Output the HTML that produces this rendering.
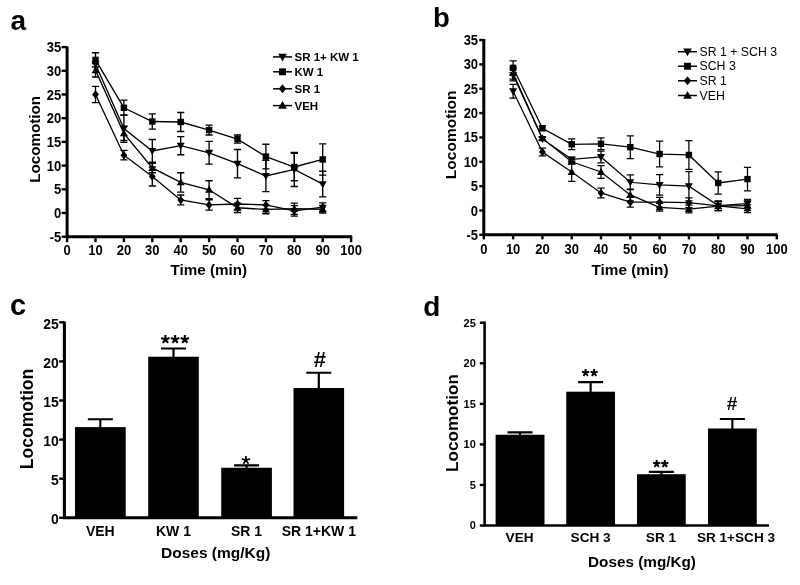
<!DOCTYPE html>
<html><head><meta charset="utf-8"><style>
html,body{margin:0;padding:0;background:#fff;}
svg{display:block;will-change:transform;}
</style></head><body>
<svg width="800" height="585" viewBox="0 0 800 585" font-family='"Liberation Sans", sans-serif' fill="#000">
<defs><filter id="bl" x="0" y="0" width="800" height="585" filterUnits="userSpaceOnUse"><feGaussianBlur stdDeviation="0.45"/></filter></defs>
<rect width="800" height="585" fill="#fff"/>
<g filter="url(#bl)">
<path d="M67.10,46.50 V236.70 H352.20" fill="none" stroke="#000" stroke-width="3"/>
<path d="M61.60,236.70 H67.10" stroke="#000" stroke-width="2.4"/>
<text transform="translate(61.30,241.70) scale(1,1.1)" font-size="13" font-weight="bold" text-anchor="end" >-5</text>
<path d="M61.60,213.00 H67.10" stroke="#000" stroke-width="2.4"/>
<text transform="translate(61.30,218.00) scale(1,1.1)" font-size="13" font-weight="bold" text-anchor="end" >0</text>
<path d="M61.60,189.30 H67.10" stroke="#000" stroke-width="2.4"/>
<text transform="translate(61.30,194.30) scale(1,1.1)" font-size="13" font-weight="bold" text-anchor="end" >5</text>
<path d="M61.60,165.60 H67.10" stroke="#000" stroke-width="2.4"/>
<text transform="translate(61.30,170.60) scale(1,1.1)" font-size="13" font-weight="bold" text-anchor="end" >10</text>
<path d="M61.60,141.90 H67.10" stroke="#000" stroke-width="2.4"/>
<text transform="translate(61.30,146.90) scale(1,1.1)" font-size="13" font-weight="bold" text-anchor="end" >15</text>
<path d="M61.60,118.20 H67.10" stroke="#000" stroke-width="2.4"/>
<text transform="translate(61.30,123.20) scale(1,1.1)" font-size="13" font-weight="bold" text-anchor="end" >20</text>
<path d="M61.60,94.50 H67.10" stroke="#000" stroke-width="2.4"/>
<text transform="translate(61.30,99.50) scale(1,1.1)" font-size="13" font-weight="bold" text-anchor="end" >25</text>
<path d="M61.60,70.80 H67.10" stroke="#000" stroke-width="2.4"/>
<text transform="translate(61.30,75.80) scale(1,1.1)" font-size="13" font-weight="bold" text-anchor="end" >30</text>
<path d="M61.60,47.10 H67.10" stroke="#000" stroke-width="2.4"/>
<text transform="translate(61.30,52.10) scale(1,1.1)" font-size="13" font-weight="bold" text-anchor="end" >35</text>
<path d="M67.10,236.70 V242.20" stroke="#000" stroke-width="2.4"/>
<text transform="translate(67.10,255.30) scale(1,1.1)" font-size="13" font-weight="bold" text-anchor="middle" >0</text>
<path d="M95.50,236.70 V242.20" stroke="#000" stroke-width="2.4"/>
<text transform="translate(95.50,255.30) scale(1,1.1)" font-size="13" font-weight="bold" text-anchor="middle" >10</text>
<path d="M123.90,236.70 V242.20" stroke="#000" stroke-width="2.4"/>
<text transform="translate(123.90,255.30) scale(1,1.1)" font-size="13" font-weight="bold" text-anchor="middle" >20</text>
<path d="M152.30,236.70 V242.20" stroke="#000" stroke-width="2.4"/>
<text transform="translate(152.30,255.30) scale(1,1.1)" font-size="13" font-weight="bold" text-anchor="middle" >30</text>
<path d="M180.70,236.70 V242.20" stroke="#000" stroke-width="2.4"/>
<text transform="translate(180.70,255.30) scale(1,1.1)" font-size="13" font-weight="bold" text-anchor="middle" >40</text>
<path d="M209.10,236.70 V242.20" stroke="#000" stroke-width="2.4"/>
<text transform="translate(209.10,255.30) scale(1,1.1)" font-size="13" font-weight="bold" text-anchor="middle" >50</text>
<path d="M237.50,236.70 V242.20" stroke="#000" stroke-width="2.4"/>
<text transform="translate(237.50,255.30) scale(1,1.1)" font-size="13" font-weight="bold" text-anchor="middle" >60</text>
<path d="M265.90,236.70 V242.20" stroke="#000" stroke-width="2.4"/>
<text transform="translate(265.90,255.30) scale(1,1.1)" font-size="13" font-weight="bold" text-anchor="middle" >70</text>
<path d="M294.30,236.70 V242.20" stroke="#000" stroke-width="2.4"/>
<text transform="translate(294.30,255.30) scale(1,1.1)" font-size="13" font-weight="bold" text-anchor="middle" >80</text>
<path d="M322.70,236.70 V242.20" stroke="#000" stroke-width="2.4"/>
<text transform="translate(322.70,255.30) scale(1,1.1)" font-size="13" font-weight="bold" text-anchor="middle" >90</text>
<path d="M351.10,236.70 V242.20" stroke="#000" stroke-width="2.4"/>
<text transform="translate(351.10,255.30) scale(1,1.1)" font-size="13" font-weight="bold" text-anchor="middle" >100</text>
<polyline points="95.50,64.16 123.90,128.63 152.30,150.91 180.70,145.69 209.10,152.80 237.50,163.70 265.90,176.03 294.30,169.39 322.70,184.09" fill="none" stroke="#000" stroke-width="1.35"/>
<path d="M123.90,114.88 V142.37 M120.30,114.88 h7.2 M120.30,142.37 h7.2" stroke="#000" stroke-width="1.35" fill="none"/>
<path d="M152.30,139.53 V162.28 M148.70,139.53 h7.2 M148.70,162.28 h7.2" stroke="#000" stroke-width="1.35" fill="none"/>
<path d="M180.70,136.69 V154.70 M177.10,136.69 h7.2 M177.10,154.70 h7.2" stroke="#000" stroke-width="1.35" fill="none"/>
<path d="M209.10,141.43 V164.18 M205.50,141.43 h7.2 M205.50,164.18 h7.2" stroke="#000" stroke-width="1.35" fill="none"/>
<path d="M237.50,149.48 V177.92 M233.90,149.48 h7.2 M233.90,177.92 h7.2" stroke="#000" stroke-width="1.35" fill="none"/>
<path d="M265.90,160.39 V191.67 M262.30,160.39 h7.2 M262.30,191.67 h7.2" stroke="#000" stroke-width="1.35" fill="none"/>
<path d="M294.30,152.33 V186.46 M290.70,152.33 h7.2 M290.70,186.46 h7.2" stroke="#000" stroke-width="1.35" fill="none"/>
<path d="M322.70,171.29 V196.88 M319.10,171.29 h7.2 M319.10,196.88 h7.2" stroke="#000" stroke-width="1.35" fill="none"/>
<polyline points="95.50,94.50 123.90,155.17 152.30,176.50 180.70,199.97 209.10,204.94 237.50,203.99 265.90,204.94 294.30,210.87 322.70,207.07" fill="none" stroke="#000" stroke-width="1.35"/>
<path d="M95.50,86.44 V102.56 M91.90,86.44 h7.2 M91.90,102.56 h7.2" stroke="#000" stroke-width="1.35" fill="none"/>
<path d="M123.90,150.43 V159.91 M120.30,150.43 h7.2 M120.30,159.91 h7.2" stroke="#000" stroke-width="1.35" fill="none"/>
<path d="M152.30,167.02 V185.98 M148.70,167.02 h7.2 M148.70,185.98 h7.2" stroke="#000" stroke-width="1.35" fill="none"/>
<path d="M180.70,194.99 V204.94 M177.10,194.99 h7.2 M177.10,204.94 h7.2" stroke="#000" stroke-width="1.35" fill="none"/>
<path d="M209.10,199.73 V210.16 M205.50,199.73 h7.2 M205.50,210.16 h7.2" stroke="#000" stroke-width="1.35" fill="none"/>
<path d="M237.50,198.31 V209.68 M233.90,198.31 h7.2 M233.90,209.68 h7.2" stroke="#000" stroke-width="1.35" fill="none"/>
<path d="M265.90,200.68 V209.21 M262.30,200.68 h7.2 M262.30,209.21 h7.2" stroke="#000" stroke-width="1.35" fill="none"/>
<path d="M294.30,205.65 V216.08 M290.70,205.65 h7.2 M290.70,216.08 h7.2" stroke="#000" stroke-width="1.35" fill="none"/>
<path d="M322.70,202.81 V211.34 M319.10,202.81 h7.2 M319.10,211.34 h7.2" stroke="#000" stroke-width="1.35" fill="none"/>
<polyline points="95.50,70.33 123.90,133.37 152.30,167.97 180.70,182.43 209.10,189.77 237.50,207.79 265.90,209.44 294.30,208.73 322.70,209.21" fill="none" stroke="#000" stroke-width="1.35"/>
<path d="M95.50,63.69 V76.96 M91.90,63.69 h7.2 M91.90,76.96 h7.2" stroke="#000" stroke-width="1.35" fill="none"/>
<path d="M123.90,126.26 V140.48 M120.30,126.26 h7.2 M120.30,140.48 h7.2" stroke="#000" stroke-width="1.35" fill="none"/>
<path d="M152.30,163.23 V172.71 M148.70,163.23 h7.2 M148.70,172.71 h7.2" stroke="#000" stroke-width="1.35" fill="none"/>
<path d="M180.70,172.71 V192.14 M177.10,172.71 h7.2 M177.10,192.14 h7.2" stroke="#000" stroke-width="1.35" fill="none"/>
<path d="M209.10,180.77 V198.78 M205.50,180.77 h7.2 M205.50,198.78 h7.2" stroke="#000" stroke-width="1.35" fill="none"/>
<path d="M237.50,203.05 V212.53 M233.90,203.05 h7.2 M233.90,212.53 h7.2" stroke="#000" stroke-width="1.35" fill="none"/>
<path d="M265.90,205.18 V213.71 M262.30,205.18 h7.2 M262.30,213.71 h7.2" stroke="#000" stroke-width="1.35" fill="none"/>
<path d="M294.30,203.05 V214.42 M290.70,203.05 h7.2 M290.70,214.42 h7.2" stroke="#000" stroke-width="1.35" fill="none"/>
<path d="M322.70,205.42 V213.00 M319.10,205.42 h7.2 M319.10,213.00 h7.2" stroke="#000" stroke-width="1.35" fill="none"/>
<polyline points="95.50,59.90 123.90,107.77 152.30,121.52 180.70,121.99 209.10,130.05 237.50,139.06 265.90,156.59 294.30,167.02 322.70,159.44" fill="none" stroke="#000" stroke-width="1.35"/>
<path d="M95.50,52.79 V67.01 M91.90,52.79 h7.2 M91.90,67.01 h7.2" stroke="#000" stroke-width="1.35" fill="none"/>
<path d="M123.90,100.19 V115.36 M120.30,100.19 h7.2 M120.30,115.36 h7.2" stroke="#000" stroke-width="1.35" fill="none"/>
<path d="M152.30,113.93 V129.10 M148.70,113.93 h7.2 M148.70,129.10 h7.2" stroke="#000" stroke-width="1.35" fill="none"/>
<path d="M180.70,112.51 V131.47 M177.10,112.51 h7.2 M177.10,131.47 h7.2" stroke="#000" stroke-width="1.35" fill="none"/>
<path d="M209.10,125.07 V135.03 M205.50,125.07 h7.2 M205.50,135.03 h7.2" stroke="#000" stroke-width="1.35" fill="none"/>
<path d="M237.50,135.03 V143.08 M233.90,135.03 h7.2 M233.90,143.08 h7.2" stroke="#000" stroke-width="1.35" fill="none"/>
<path d="M265.90,144.27 V168.92 M262.30,144.27 h7.2 M262.30,168.92 h7.2" stroke="#000" stroke-width="1.35" fill="none"/>
<path d="M294.30,153.28 V180.77 M290.70,153.28 h7.2 M290.70,180.77 h7.2" stroke="#000" stroke-width="1.35" fill="none"/>
<path d="M322.70,143.80 V175.08 M319.10,143.80 h7.2 M319.10,175.08 h7.2" stroke="#000" stroke-width="1.35" fill="none"/>
<path d="M91.50,61.22 L99.50,61.22 L95.50,68.36Z"/>
<path d="M119.90,125.69 L127.90,125.69 L123.90,132.83Z"/>
<path d="M148.30,147.97 L156.30,147.97 L152.30,155.11Z"/>
<path d="M176.70,142.75 L184.70,142.75 L180.70,149.89Z"/>
<path d="M205.10,149.86 L213.10,149.86 L209.10,157.00Z"/>
<path d="M233.50,160.76 L241.50,160.76 L237.50,167.90Z"/>
<path d="M261.90,173.09 L269.90,173.09 L265.90,180.23Z"/>
<path d="M290.30,166.45 L298.30,166.45 L294.30,173.59Z"/>
<path d="M318.70,181.15 L326.70,181.15 L322.70,188.29Z"/>
<path d="M92.10,94.50 L95.50,90.30 L98.90,94.50 L95.50,98.70Z"/>
<path d="M120.50,155.17 L123.90,150.97 L127.30,155.17 L123.90,159.37Z"/>
<path d="M148.90,176.50 L152.30,172.30 L155.70,176.50 L152.30,180.70Z"/>
<path d="M177.30,199.97 L180.70,195.77 L184.10,199.97 L180.70,204.16Z"/>
<path d="M205.70,204.94 L209.10,200.74 L212.50,204.94 L209.10,209.14Z"/>
<path d="M234.10,203.99 L237.50,199.79 L240.90,203.99 L237.50,208.19Z"/>
<path d="M262.50,204.94 L265.90,200.74 L269.30,204.94 L265.90,209.14Z"/>
<path d="M290.90,210.87 L294.30,206.67 L297.70,210.87 L294.30,215.07Z"/>
<path d="M319.30,207.07 L322.70,202.88 L326.10,207.07 L322.70,211.27Z"/>
<path d="M91.50,73.27 L99.50,73.27 L95.50,66.13Z"/>
<path d="M119.90,136.31 L127.90,136.31 L123.90,129.17Z"/>
<path d="M148.30,170.91 L156.30,170.91 L152.30,163.77Z"/>
<path d="M176.70,185.37 L184.70,185.37 L180.70,178.23Z"/>
<path d="M205.10,192.71 L213.10,192.71 L209.10,185.57Z"/>
<path d="M233.50,210.73 L241.50,210.73 L237.50,203.59Z"/>
<path d="M261.90,212.38 L269.90,212.38 L265.90,205.25Z"/>
<path d="M290.30,211.67 L298.30,211.67 L294.30,204.53Z"/>
<path d="M318.70,212.15 L326.70,212.15 L322.70,205.01Z"/>
<rect x="92.30" y="56.70" width="6.40" height="6.40"/>
<rect x="120.70" y="104.57" width="6.40" height="6.40"/>
<rect x="149.10" y="118.32" width="6.40" height="6.40"/>
<rect x="177.50" y="118.79" width="6.40" height="6.40"/>
<rect x="205.90" y="126.85" width="6.40" height="6.40"/>
<rect x="234.30" y="135.86" width="6.40" height="6.40"/>
<rect x="262.70" y="153.39" width="6.40" height="6.40"/>
<rect x="291.10" y="163.82" width="6.40" height="6.40"/>
<rect x="319.50" y="156.24" width="6.40" height="6.40"/>
<path d="M273.00,56.90 h19" stroke="#000" stroke-width="1.5"/>
<path d="M278.18,53.72 L286.82,53.72 L282.50,61.44Z"/>
<text x="294.50" y="61.10" font-size="11.5" font-weight="bold" text-anchor="start" >SR 1+ KW 1</text>
<path d="M273.00,71.80 h19" stroke="#000" stroke-width="1.5"/>
<rect x="279.04" y="68.34" width="6.91" height="6.91"/>
<text x="294.50" y="76.00" font-size="11.5" font-weight="bold" text-anchor="start" >KW 1</text>
<path d="M273.00,88.80 h19" stroke="#000" stroke-width="1.5"/>
<path d="M278.83,88.80 L282.50,84.26 L286.17,88.80 L282.50,93.34Z"/>
<text x="294.50" y="93.00" font-size="11.5" font-weight="bold" text-anchor="start" >SR 1</text>
<path d="M273.00,105.60 h19" stroke="#000" stroke-width="1.5"/>
<path d="M278.18,108.78 L286.82,108.78 L282.50,101.06Z"/>
<text x="294.50" y="109.80" font-size="11.5" font-weight="bold" text-anchor="start" >VEH</text>
<text x="39.60" y="139.40" font-size="15.2" font-weight="bold" text-anchor="middle" transform="rotate(-90 39.6 139.4)">Locomotion</text>
<text x="208.75" y="275.20" font-size="15.2" font-weight="bold" text-anchor="middle" >Time (min)</text>
<text x="10.50" y="29.50" font-size="28" font-weight="bold" text-anchor="start" >a</text>
<path d="M483.80,39.00 V234.85 H777.50" fill="none" stroke="#000" stroke-width="3"/>
<path d="M479.30,234.85 H483.80" stroke="#000" stroke-width="2.4"/>
<text transform="translate(478.10,239.85) scale(1,1.1)" font-size="13" font-weight="bold" text-anchor="end" >-5</text>
<path d="M479.30,210.50 H483.80" stroke="#000" stroke-width="2.4"/>
<text transform="translate(478.10,215.50) scale(1,1.1)" font-size="13" font-weight="bold" text-anchor="end" >0</text>
<path d="M479.30,186.15 H483.80" stroke="#000" stroke-width="2.4"/>
<text transform="translate(478.10,191.15) scale(1,1.1)" font-size="13" font-weight="bold" text-anchor="end" >5</text>
<path d="M479.30,161.80 H483.80" stroke="#000" stroke-width="2.4"/>
<text transform="translate(478.10,166.80) scale(1,1.1)" font-size="13" font-weight="bold" text-anchor="end" >10</text>
<path d="M479.30,137.45 H483.80" stroke="#000" stroke-width="2.4"/>
<text transform="translate(478.10,142.45) scale(1,1.1)" font-size="13" font-weight="bold" text-anchor="end" >15</text>
<path d="M479.30,113.10 H483.80" stroke="#000" stroke-width="2.4"/>
<text transform="translate(478.10,118.10) scale(1,1.1)" font-size="13" font-weight="bold" text-anchor="end" >20</text>
<path d="M479.30,88.75 H483.80" stroke="#000" stroke-width="2.4"/>
<text transform="translate(478.10,93.75) scale(1,1.1)" font-size="13" font-weight="bold" text-anchor="end" >25</text>
<path d="M479.30,64.40 H483.80" stroke="#000" stroke-width="2.4"/>
<text transform="translate(478.10,69.40) scale(1,1.1)" font-size="13" font-weight="bold" text-anchor="end" >30</text>
<path d="M479.30,40.05 H483.80" stroke="#000" stroke-width="2.4"/>
<text transform="translate(478.10,45.05) scale(1,1.1)" font-size="13" font-weight="bold" text-anchor="end" >35</text>
<path d="M483.80,234.85 V239.35" stroke="#000" stroke-width="2.4"/>
<text transform="translate(483.80,254.00) scale(1,1.1)" font-size="13" font-weight="bold" text-anchor="middle" >0</text>
<path d="M513.10,234.85 V239.35" stroke="#000" stroke-width="2.4"/>
<text transform="translate(513.10,254.00) scale(1,1.1)" font-size="13" font-weight="bold" text-anchor="middle" >10</text>
<path d="M542.40,234.85 V239.35" stroke="#000" stroke-width="2.4"/>
<text transform="translate(542.40,254.00) scale(1,1.1)" font-size="13" font-weight="bold" text-anchor="middle" >20</text>
<path d="M571.70,234.85 V239.35" stroke="#000" stroke-width="2.4"/>
<text transform="translate(571.70,254.00) scale(1,1.1)" font-size="13" font-weight="bold" text-anchor="middle" >30</text>
<path d="M601.00,234.85 V239.35" stroke="#000" stroke-width="2.4"/>
<text transform="translate(601.00,254.00) scale(1,1.1)" font-size="13" font-weight="bold" text-anchor="middle" >40</text>
<path d="M630.30,234.85 V239.35" stroke="#000" stroke-width="2.4"/>
<text transform="translate(630.30,254.00) scale(1,1.1)" font-size="13" font-weight="bold" text-anchor="middle" >50</text>
<path d="M659.60,234.85 V239.35" stroke="#000" stroke-width="2.4"/>
<text transform="translate(659.60,254.00) scale(1,1.1)" font-size="13" font-weight="bold" text-anchor="middle" >60</text>
<path d="M688.90,234.85 V239.35" stroke="#000" stroke-width="2.4"/>
<text transform="translate(688.90,254.00) scale(1,1.1)" font-size="13" font-weight="bold" text-anchor="middle" >70</text>
<path d="M718.20,234.85 V239.35" stroke="#000" stroke-width="2.4"/>
<text transform="translate(718.20,254.00) scale(1,1.1)" font-size="13" font-weight="bold" text-anchor="middle" >80</text>
<path d="M747.50,234.85 V239.35" stroke="#000" stroke-width="2.4"/>
<text transform="translate(747.50,254.00) scale(1,1.1)" font-size="13" font-weight="bold" text-anchor="middle" >90</text>
<path d="M776.80,234.85 V239.35" stroke="#000" stroke-width="2.4"/>
<text transform="translate(776.80,254.00) scale(1,1.1)" font-size="13" font-weight="bold" text-anchor="middle" >100</text>
<polyline points="513.10,75.11 542.40,138.91 571.70,159.37 601.00,156.93 630.30,182.25 659.60,184.93 688.90,186.15 718.20,205.63 747.50,203.68" fill="none" stroke="#000" stroke-width="1.25"/>
<path d="M513.10,69.27 V80.96 M509.50,69.27 h7.2 M509.50,80.96 h7.2" stroke="#000" stroke-width="1.25" fill="none"/>
<path d="M542.40,137.45 V140.37 M538.80,137.45 h7.2 M538.80,140.37 h7.2" stroke="#000" stroke-width="1.25" fill="none"/>
<path d="M571.70,157.42 V161.31 M568.10,157.42 h7.2 M568.10,161.31 h7.2" stroke="#000" stroke-width="1.25" fill="none"/>
<path d="M601.00,151.09 V162.77 M597.40,151.09 h7.2 M597.40,162.77 h7.2" stroke="#000" stroke-width="1.25" fill="none"/>
<path d="M630.30,174.95 V189.56 M626.70,174.95 h7.2 M626.70,189.56 h7.2" stroke="#000" stroke-width="1.25" fill="none"/>
<path d="M659.60,174.71 V195.16 M656.00,174.71 h7.2 M656.00,195.16 h7.2" stroke="#000" stroke-width="1.25" fill="none"/>
<path d="M688.90,171.54 V200.76 M685.30,171.54 h7.2 M685.30,200.76 h7.2" stroke="#000" stroke-width="1.25" fill="none"/>
<path d="M718.20,200.76 V210.50 M714.60,200.76 h7.2 M714.60,210.50 h7.2" stroke="#000" stroke-width="1.25" fill="none"/>
<path d="M747.50,199.30 V208.06 M743.90,199.30 h7.2 M743.90,208.06 h7.2" stroke="#000" stroke-width="1.25" fill="none"/>
<polyline points="513.10,91.19 542.40,152.06 571.70,172.03 601.00,192.97 630.30,202.22 659.60,202.22 688.90,202.71 718.20,205.87 747.50,208.80" fill="none" stroke="#000" stroke-width="1.25"/>
<path d="M513.10,84.37 V98.00 M509.50,84.37 h7.2 M509.50,98.00 h7.2" stroke="#000" stroke-width="1.25" fill="none"/>
<path d="M542.40,148.16 V155.96 M538.80,148.16 h7.2 M538.80,155.96 h7.2" stroke="#000" stroke-width="1.25" fill="none"/>
<path d="M571.70,162.77 V181.28 M568.10,162.77 h7.2 M568.10,181.28 h7.2" stroke="#000" stroke-width="1.25" fill="none"/>
<path d="M601.00,188.10 V197.84 M597.40,188.10 h7.2 M597.40,197.84 h7.2" stroke="#000" stroke-width="1.25" fill="none"/>
<path d="M630.30,197.35 V207.09 M626.70,197.35 h7.2 M626.70,207.09 h7.2" stroke="#000" stroke-width="1.25" fill="none"/>
<path d="M659.60,197.35 V207.09 M656.00,197.35 h7.2 M656.00,207.09 h7.2" stroke="#000" stroke-width="1.25" fill="none"/>
<path d="M688.90,197.84 V207.58 M685.30,197.84 h7.2 M685.30,207.58 h7.2" stroke="#000" stroke-width="1.25" fill="none"/>
<path d="M718.20,201.49 V210.26 M714.60,201.49 h7.2 M714.60,210.26 h7.2" stroke="#000" stroke-width="1.25" fill="none"/>
<path d="M747.50,204.90 V212.69 M743.90,204.90 h7.2 M743.90,212.69 h7.2" stroke="#000" stroke-width="1.25" fill="none"/>
<polyline points="513.10,73.17 542.40,138.42 571.70,161.80 601.00,172.03 630.30,194.92 659.60,207.33 688.90,209.04 718.20,206.12 747.50,205.63" fill="none" stroke="#000" stroke-width="1.25"/>
<path d="M513.10,67.32 V79.01 M509.50,67.32 h7.2 M509.50,79.01 h7.2" stroke="#000" stroke-width="1.25" fill="none"/>
<path d="M542.40,136.96 V139.88 M538.80,136.96 h7.2 M538.80,139.88 h7.2" stroke="#000" stroke-width="1.25" fill="none"/>
<path d="M571.70,159.85 V163.75 M568.10,159.85 h7.2 M568.10,163.75 h7.2" stroke="#000" stroke-width="1.25" fill="none"/>
<path d="M601.00,165.70 V178.36 M597.40,165.70 h7.2 M597.40,178.36 h7.2" stroke="#000" stroke-width="1.25" fill="none"/>
<path d="M630.30,189.07 V200.76 M626.70,189.07 h7.2 M626.70,200.76 h7.2" stroke="#000" stroke-width="1.25" fill="none"/>
<path d="M659.60,203.44 V211.23 M656.00,203.44 h7.2 M656.00,211.23 h7.2" stroke="#000" stroke-width="1.25" fill="none"/>
<path d="M688.90,205.14 V212.94 M685.30,205.14 h7.2 M685.30,212.94 h7.2" stroke="#000" stroke-width="1.25" fill="none"/>
<path d="M718.20,201.73 V210.50 M714.60,201.73 h7.2 M714.60,210.50 h7.2" stroke="#000" stroke-width="1.25" fill="none"/>
<path d="M747.50,200.76 V210.50 M743.90,200.76 h7.2 M743.90,210.50 h7.2" stroke="#000" stroke-width="1.25" fill="none"/>
<polyline points="513.10,67.81 542.40,128.20 571.70,144.27 601.00,143.78 630.30,147.19 659.60,154.01 688.90,154.98 718.20,182.98 747.50,179.09" fill="none" stroke="#000" stroke-width="1.25"/>
<path d="M513.10,60.99 V74.63 M509.50,60.99 h7.2 M509.50,74.63 h7.2" stroke="#000" stroke-width="1.25" fill="none"/>
<path d="M542.40,125.76 V130.63 M538.80,125.76 h7.2 M538.80,130.63 h7.2" stroke="#000" stroke-width="1.25" fill="none"/>
<path d="M571.70,138.91 V149.62 M568.10,138.91 h7.2 M568.10,149.62 h7.2" stroke="#000" stroke-width="1.25" fill="none"/>
<path d="M601.00,137.94 V149.62 M597.40,137.94 h7.2 M597.40,149.62 h7.2" stroke="#000" stroke-width="1.25" fill="none"/>
<path d="M630.30,135.75 V158.63 M626.70,135.75 h7.2 M626.70,158.63 h7.2" stroke="#000" stroke-width="1.25" fill="none"/>
<path d="M659.60,141.10 V166.91 M656.00,141.10 h7.2 M656.00,166.91 h7.2" stroke="#000" stroke-width="1.25" fill="none"/>
<path d="M688.90,140.62 V169.35 M685.30,140.62 h7.2 M685.30,169.35 h7.2" stroke="#000" stroke-width="1.25" fill="none"/>
<path d="M718.20,171.78 V194.19 M714.60,171.78 h7.2 M714.60,194.19 h7.2" stroke="#000" stroke-width="1.25" fill="none"/>
<path d="M747.50,167.40 V190.78 M743.90,167.40 h7.2 M743.90,190.78 h7.2" stroke="#000" stroke-width="1.25" fill="none"/>
<path d="M509.10,72.17 L517.10,72.17 L513.10,79.31Z"/>
<path d="M538.40,135.97 L546.40,135.97 L542.40,143.11Z"/>
<path d="M567.70,156.43 L575.70,156.43 L571.70,163.56Z"/>
<path d="M597.00,153.99 L605.00,153.99 L601.00,161.13Z"/>
<path d="M626.30,179.31 L634.30,179.31 L630.30,186.45Z"/>
<path d="M655.60,181.99 L663.60,181.99 L659.60,189.13Z"/>
<path d="M684.90,183.21 L692.90,183.21 L688.90,190.35Z"/>
<path d="M714.20,202.69 L722.20,202.69 L718.20,209.83Z"/>
<path d="M743.50,200.74 L751.50,200.74 L747.50,207.88Z"/>
<path d="M509.10,88.25 L517.10,88.25 L513.10,95.39Z"/>
<path d="M539.00,152.06 L542.40,147.86 L545.80,152.06 L542.40,156.26Z"/>
<path d="M567.70,174.97 L575.70,174.97 L571.70,167.83Z"/>
<path d="M597.60,192.97 L601.00,188.77 L604.40,192.97 L601.00,197.17Z"/>
<path d="M626.90,202.22 L630.30,198.02 L633.70,202.22 L630.30,206.42Z"/>
<path d="M656.20,202.22 L659.60,198.02 L663.00,202.22 L659.60,206.42Z"/>
<path d="M685.50,202.71 L688.90,198.51 L692.30,202.71 L688.90,206.91Z"/>
<path d="M714.80,205.87 L718.20,201.67 L721.60,205.87 L718.20,210.07Z"/>
<path d="M744.10,208.80 L747.50,204.60 L750.90,208.80 L747.50,213.00Z"/>
<path d="M509.10,76.11 L517.10,76.11 L513.10,68.97Z"/>
<path d="M538.40,141.36 L546.40,141.36 L542.40,134.22Z"/>
<path d="M567.70,164.74 L575.70,164.74 L571.70,157.60Z"/>
<path d="M597.00,174.97 L605.00,174.97 L601.00,167.83Z"/>
<path d="M626.30,197.86 L634.30,197.86 L630.30,190.72Z"/>
<path d="M655.60,210.27 L663.60,210.27 L659.60,203.13Z"/>
<path d="M684.90,211.98 L692.90,211.98 L688.90,204.84Z"/>
<path d="M714.20,209.06 L722.20,209.06 L718.20,201.92Z"/>
<path d="M743.50,208.57 L751.50,208.57 L747.50,201.43Z"/>
<rect x="509.90" y="64.61" width="6.40" height="6.40"/>
<rect x="539.20" y="125.00" width="6.40" height="6.40"/>
<rect x="568.50" y="141.07" width="6.40" height="6.40"/>
<rect x="597.80" y="140.58" width="6.40" height="6.40"/>
<rect x="627.10" y="143.99" width="6.40" height="6.40"/>
<rect x="656.40" y="150.81" width="6.40" height="6.40"/>
<rect x="685.70" y="151.78" width="6.40" height="6.40"/>
<rect x="715.00" y="179.78" width="6.40" height="6.40"/>
<rect x="744.30" y="175.89" width="6.40" height="6.40"/>
<path d="M678.00,51.75 h19" stroke="#000" stroke-width="1.5"/>
<path d="M683.18,48.57 L691.82,48.57 L687.50,56.29Z"/>
<text x="699.50" y="55.95" font-size="12.3" font-weight="normal" text-anchor="start" >SR 1 + SCH 3</text>
<path d="M678.00,66.25 h19" stroke="#000" stroke-width="1.5"/>
<rect x="684.04" y="62.79" width="6.91" height="6.91"/>
<text x="699.50" y="70.45" font-size="12.3" font-weight="normal" text-anchor="start" >SCH 3</text>
<path d="M678.00,80.75 h19" stroke="#000" stroke-width="1.5"/>
<path d="M683.83,80.75 L687.50,76.21 L691.17,80.75 L687.50,85.29Z"/>
<text x="699.50" y="84.95" font-size="12.3" font-weight="normal" text-anchor="start" >SR 1</text>
<path d="M678.00,95.50 h19" stroke="#000" stroke-width="1.5"/>
<path d="M683.18,98.68 L691.82,98.68 L687.50,90.96Z"/>
<text x="699.50" y="99.70" font-size="12.3" font-weight="normal" text-anchor="start" >VEH</text>
<text x="456.00" y="134.80" font-size="15.5" font-weight="bold" text-anchor="middle" transform="rotate(-90 456 134.8)">Locomotion</text>
<text x="630.00" y="275.00" font-size="15.3" font-weight="bold" text-anchor="middle" >Time (min)</text>
<text x="433.00" y="26.60" font-size="27.5" font-weight="bold" text-anchor="start" >b</text>
<rect x="75.00" y="427.09" width="50.70" height="90.71"/>
<path d="M100.35,428.09 V419.27 M87.85,419.27 h25" stroke="#000" stroke-width="2.2" fill="none"/>
<rect x="148.20" y="356.71" width="50.60" height="161.09"/>
<path d="M173.50,357.71 V348.50 M161.00,348.50 h25" stroke="#000" stroke-width="2.2" fill="none"/>
<rect x="221.25" y="467.75" width="50.65" height="50.05"/>
<path d="M246.57,468.75 V465.41 M234.07,465.41 h25" stroke="#000" stroke-width="2.2" fill="none"/>
<rect x="293.50" y="387.99" width="50.60" height="129.81"/>
<path d="M318.80,388.99 V372.74 M306.30,372.74 h25" stroke="#000" stroke-width="2.2" fill="none"/>
<path d="M64.40,321.50 V517.80 H357.30" fill="none" stroke="#000" stroke-width="3.1"/>
<path d="M59.20,517.80 H64.40" stroke="#000" stroke-width="2.4"/>
<text transform="translate(58.90,524.10) scale(1,1.1)" font-size="14" font-weight="bold" text-anchor="end" >0</text>
<path d="M59.20,478.70 H64.40" stroke="#000" stroke-width="2.4"/>
<text transform="translate(58.90,485.00) scale(1,1.1)" font-size="14" font-weight="bold" text-anchor="end" >5</text>
<path d="M59.20,439.60 H64.40" stroke="#000" stroke-width="2.4"/>
<text transform="translate(58.90,445.90) scale(1,1.1)" font-size="14" font-weight="bold" text-anchor="end" >10</text>
<path d="M59.20,400.50 H64.40" stroke="#000" stroke-width="2.4"/>
<text transform="translate(58.90,406.80) scale(1,1.1)" font-size="14" font-weight="bold" text-anchor="end" >15</text>
<path d="M59.20,361.40 H64.40" stroke="#000" stroke-width="2.4"/>
<text transform="translate(58.90,367.70) scale(1,1.1)" font-size="14" font-weight="bold" text-anchor="end" >20</text>
<path d="M59.20,322.30 H64.40" stroke="#000" stroke-width="2.4"/>
<text transform="translate(58.90,328.60) scale(1,1.1)" font-size="14" font-weight="bold" text-anchor="end" >25</text>
<text x="100.35" y="536.30" font-size="14" font-weight="bold" text-anchor="middle" >VEH</text>
<text x="173.50" y="536.30" font-size="14" font-weight="bold" text-anchor="middle" >KW 1</text>
<text x="246.57" y="536.30" font-size="14" font-weight="bold" text-anchor="middle" >SR 1</text>
<text x="318.80" y="536.30" font-size="14" font-weight="bold" text-anchor="middle" >SR 1+KW 1</text>
<path d="M165.40,339.40 L165.40,335.00 M165.40,339.40 L169.58,338.04 M165.40,339.40 L167.99,342.96 M165.40,339.40 L162.81,342.96 M165.40,339.40 L161.22,338.04 " stroke="#000" stroke-width="2.1" stroke-linecap="butt" fill="none"/>
<path d="M175.10,339.40 L175.10,335.00 M175.10,339.40 L179.28,338.04 M175.10,339.40 L177.69,342.96 M175.10,339.40 L172.51,342.96 M175.10,339.40 L170.92,338.04 " stroke="#000" stroke-width="2.1" stroke-linecap="butt" fill="none"/>
<path d="M184.80,339.40 L184.80,335.00 M184.80,339.40 L188.98,338.04 M184.80,339.40 L187.39,342.96 M184.80,339.40 L182.21,342.96 M184.80,339.40 L180.62,338.04 " stroke="#000" stroke-width="2.1" stroke-linecap="butt" fill="none"/>
<path d="M245.90,460.20 L245.90,455.90 M245.90,460.20 L249.99,458.87 M245.90,460.20 L248.43,463.68 M245.90,460.20 L243.37,463.68 M245.90,460.20 L241.81,458.87 " stroke="#000" stroke-width="1.7" stroke-linecap="butt" fill="none"/>
<text x="319.80" y="367.00" font-size="22" font-weight="bold" text-anchor="middle" >#</text>
<text x="33.30" y="419.00" font-size="17.6" font-weight="bold" text-anchor="middle" transform="rotate(-90 33.3 419)">Locomotion</text>
<text x="215.70" y="558.00" font-size="15.5" font-weight="bold" text-anchor="middle" >Doses (mg/Kg)</text>
<text x="10.00" y="314.60" font-size="29" font-weight="bold" text-anchor="start" >c</text>
<rect x="495.60" y="434.75" width="48.90" height="90.75"/>
<path d="M520.05,435.75 V432.32 M507.55,432.32 h25" stroke="#000" stroke-width="2.2" fill="none"/>
<rect x="566.25" y="391.69" width="48.75" height="133.81"/>
<path d="M590.62,392.69 V382.12 M578.12,382.12 h25" stroke="#000" stroke-width="2.2" fill="none"/>
<rect x="637.00" y="474.24" width="48.75" height="51.26"/>
<path d="M661.38,475.24 V471.97 M648.88,471.97 h25" stroke="#000" stroke-width="2.2" fill="none"/>
<rect x="708.00" y="428.50" width="48.75" height="97.00"/>
<path d="M732.38,429.50 V419.02 M719.88,419.02 h25" stroke="#000" stroke-width="2.2" fill="none"/>
<path d="M484.60,321.50 V525.50 H769.00" fill="none" stroke="#000" stroke-width="2.6"/>
<path d="M479.80,525.50 H484.60" stroke="#000" stroke-width="2.4"/>
<text x="475.80" y="529.46" font-size="11" font-weight="bold" text-anchor="end" >0</text>
<path d="M479.80,484.95 H484.60" stroke="#000" stroke-width="2.4"/>
<text x="475.80" y="488.91" font-size="11" font-weight="bold" text-anchor="end" >5</text>
<path d="M479.80,444.40 H484.60" stroke="#000" stroke-width="2.4"/>
<text x="475.80" y="448.36" font-size="11" font-weight="bold" text-anchor="end" >10</text>
<path d="M479.80,403.85 H484.60" stroke="#000" stroke-width="2.4"/>
<text x="475.80" y="407.81" font-size="11" font-weight="bold" text-anchor="end" >15</text>
<path d="M479.80,363.30 H484.60" stroke="#000" stroke-width="2.4"/>
<text x="475.80" y="367.26" font-size="11" font-weight="bold" text-anchor="end" >20</text>
<path d="M479.80,322.75 H484.60" stroke="#000" stroke-width="2.4"/>
<text x="475.80" y="326.71" font-size="11" font-weight="bold" text-anchor="end" >25</text>
<text x="519.55" y="542.10" font-size="13.6" font-weight="bold" text-anchor="middle" >VEH</text>
<text x="590.62" y="542.10" font-size="13.6" font-weight="bold" text-anchor="middle" >SCH 3</text>
<text x="660.98" y="542.10" font-size="13.6" font-weight="bold" text-anchor="middle" >SR 1</text>
<text x="735.98" y="542.10" font-size="13.6" font-weight="bold" text-anchor="middle" >SR 1+SCH 3</text>
<path d="M585.60,372.80 L585.60,369.00 M585.60,372.80 L589.21,371.63 M585.60,372.80 L587.83,375.87 M585.60,372.80 L583.37,375.87 M585.60,372.80 L581.99,371.63 " stroke="#000" stroke-width="2.0" stroke-linecap="butt" fill="none"/>
<path d="M594.10,372.80 L594.10,369.00 M594.10,372.80 L597.71,371.63 M594.10,372.80 L596.33,375.87 M594.10,372.80 L591.87,375.87 M594.10,372.80 L590.49,371.63 " stroke="#000" stroke-width="2.0" stroke-linecap="butt" fill="none"/>
<path d="M656.70,463.80 L656.70,460.00 M656.70,463.80 L660.31,462.63 M656.70,463.80 L658.93,466.87 M656.70,463.80 L654.47,466.87 M656.70,463.80 L653.09,462.63 " stroke="#000" stroke-width="2.0" stroke-linecap="butt" fill="none"/>
<path d="M664.80,463.80 L664.80,460.00 M664.80,463.80 L668.41,462.63 M664.80,463.80 L667.03,466.87 M664.80,463.80 L662.57,466.87 M664.80,463.80 L661.19,462.63 " stroke="#000" stroke-width="2.0" stroke-linecap="butt" fill="none"/>
<text x="732.00" y="410.30" font-size="19" font-weight="bold" text-anchor="middle" >#</text>
<text x="458.00" y="423.00" font-size="17.1" font-weight="bold" text-anchor="middle" transform="rotate(-90 458 423)">Locomotion</text>
<text x="642.00" y="566.70" font-size="15.3" font-weight="bold" text-anchor="middle" >Doses (mg/Kg)</text>
<text x="423.30" y="316.20" font-size="28" font-weight="bold" text-anchor="start" >d</text>
</g>
</svg>
</body></html>
